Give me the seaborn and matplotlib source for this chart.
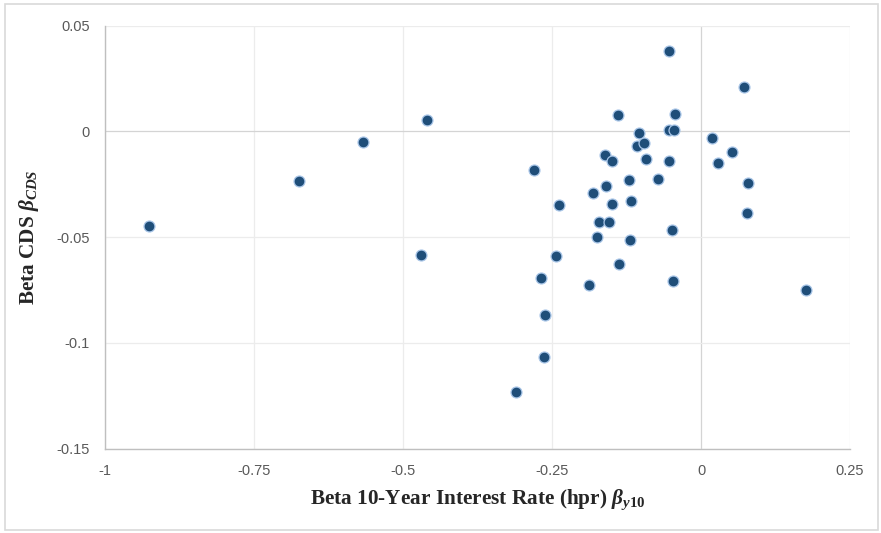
import matplotlib
matplotlib.use("Agg")
import matplotlib.pyplot as plt
import matplotlib.patches as mpatches
import seaborn as sns
import pandas as pd

# Sensitivity of each bank's CDS spread vs. its 10-year rate beta
beta_y10 = [
    -0.927, -0.675, -0.567, -0.459, -0.470,
    -0.053, 0.072, -0.140, -0.043, -0.053, -0.046, -0.104, -0.108, -0.096,
    0.018, 0.052, 0.028, -0.161, -0.149, -0.092, -0.053, -0.280, -0.120,
    -0.072, -0.159, -0.182, 0.079, 0.077, -0.238, -0.149, -0.117, -0.171,
    -0.154, -0.175, -0.119, -0.049, -0.244, -0.137,
    -0.268, -0.188, -0.047, 0.176, -0.261, -0.264, -0.310,
]
beta_cds = [
    -0.0448, -0.0235, -0.0049, 0.0053, -0.0583,
    0.0380, 0.0208, 0.0076, 0.0082, 0.0009, 0.0009, -0.0006, -0.0068, -0.0055,
    -0.0030, -0.0096, -0.0148, -0.0109, -0.0142, -0.0131, -0.0140, -0.0180, -0.0230,
    -0.0227, -0.0257, -0.0293, -0.0244, -0.0385, -0.0350, -0.0344, -0.0331, -0.0427,
    -0.0427, -0.0501, -0.0515, -0.0467, -0.0591, -0.0626,
    -0.0694, -0.0724, -0.0705, -0.0752, -0.0869, -0.1066, -0.1231,
]
x_ticks = [-1, -0.75, -0.5, -0.25, 0, 0.25]
x_tick_labels = ["-1", "-0.75", "-0.5", "-0.25", "0", "0.25"]
y_ticks = [-0.15, -0.1, -0.05, 0, 0.05]
y_tick_labels = ["-0.15", "-0.1", "-0.05", "0", "0.05"]

df = pd.DataFrame({"beta_y10": beta_y10, "beta_cds": beta_cds})

sns.set_style("white")
plt.rcParams["font.family"] = ["Liberation Sans", "DejaVu Sans"]
# bold serif maths for the beta symbols in the axis titles
plt.rcParams["mathtext.fontset"] = "custom"
plt.rcParams["mathtext.rm"] = "Liberation Serif:bold"
plt.rcParams["mathtext.bf"] = "Liberation Serif:bold"
plt.rcParams["mathtext.it"] = "Liberation Serif:bold:italic"

fig = plt.figure(figsize=(8.81, 5.33), dpi=100)
ax = fig.add_axes([105 / 881, 1 - 448.7 / 533, 745 / 881, 423 / 533])

# light frame around the whole chart
fig.patches.append(mpatches.Rectangle((5 / 881, 3 / 533), 873 / 881, 526 / 533,
                                      transform=fig.transFigure, fill=False,
                                      edgecolor="#d9d9d9", linewidth=1.2))

for t in x_ticks:
    ax.axvline(t, color="#d4d4d4" if t == 0 else "#ececec", linewidth=0.9, zorder=0)
for t in y_ticks:
    ax.axhline(t, color="#d4d4d4" if t == 0 else "#ececec", linewidth=0.9, zorder=0)

sns.scatterplot(data=df, x="beta_y10", y="beta_cds", ax=ax, s=62,
                color="#1f4e79", edgecolor="#a9c6e8", linewidth=0.9, zorder=3)

ax.set_xlim(-1, 0.25)
ax.set_ylim(-0.15, 0.05)
ax.set_xticks(x_ticks)
ax.set_xticklabels(x_tick_labels)
ax.set_yticks(y_ticks)
ax.set_yticklabels(y_tick_labels)
ax.tick_params(axis="both", length=0, labelsize=10.5, colors="#595959", pad=11)

for side in ["top", "right"]:
    ax.spines[side].set_visible(False)
for side in ["left", "bottom"]:
    ax.spines[side].set_color("#bfbfbf")
    ax.spines[side].set_linewidth(1.0)

label_font = {"family": "Liberation Serif", "weight": "bold", "size": 15.3}
ax.set_xlabel(r"Beta 10-Year Interest Rate (hpr) $\beta_{y\mathrm{10}}$",
              fontdict=label_font, labelpad=7)
ax.set_ylabel(r"Beta CDS $\beta_{CDS}$",
              fontdict=label_font, labelpad=11)

fig.savefig("out.png", dpi=100)
